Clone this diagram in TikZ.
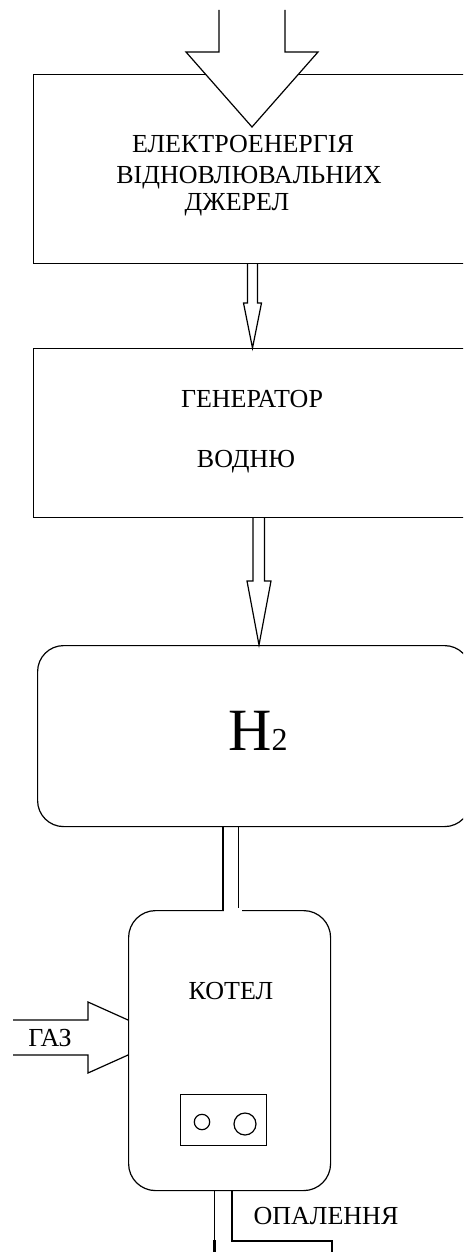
\documentclass[tikz,border=0pt]{standalone}
\usepackage{fontspec}
\setmainfont{Liberation Serif}
\begin{document}
\begin{tikzpicture}[x=1pt,y=-1pt,
  ln/.style={line width=1.2pt, line join=miter},
  box/.style={draw, line width=1.2pt, fill=white, inner sep=0, anchor=north west},
  lbl/.style={font=\fontsize{26}{26}\selectfont, inner sep=0, anchor=base},
  gauge/.style={draw, circle, line width=1.2pt, inner sep=0}]
\useasboundingbox (0,0) rectangle (463,1252);
\clip (0,0) rectangle (463,1252);
% boxes
\node[box, minimum width=447, minimum height=189] (e1) at (33,74) {};
\node[box, minimum width=447, minimum height=169] (gen) at (33,348) {};
\node[box, rounded corners=26, minimum width=433, minimum height=181] (h2) at (37,645) {};
% input arrow
\filldraw[ln, fill=white] (219,10) -- (219,52) -- (186,52) -- (252,127) -- (318,52) -- (285,52) -- (285,10);
% arrow e1 -> gen
\filldraw[ln, fill=white] (e1.south -| 247.5,0) -- (247.5,303) -- (243.5,303) -- (gen.north -| 252.5,0) -- (261.5,303) -- (257.5,303) -- (e1.south -| 257.5,0);
% arrow gen -> h2
\filldraw[ln, fill=white] (gen.south -| 253,0) -- (253,581) -- (247,581) -- (h2.north -| 259,0) -- (271,581) -- (264.5,581) -- (gen.south -| 264.5,0);
% gas arrow (behind boiler)
\coordinate (gasin) at (13,1037.5);
\draw[ln] (13,1020) -- (88,1020) -- (88,1002) -- (167,1037.5) -- (88,1073) -- (88,1055) -- (13,1055);
% boiler
\node[box, rounded corners=27, minimum width=202, minimum height=280] (kot) at (128,910) {};
% pipe h2 -> boiler
\fill[white] (223.7,904) rectangle (241.5,911.5);
\draw[ln] (h2.south -| 223,0) -- (223,910.6);
\draw[ln] (h2.south -| 238.5,0) -- (238.5,908);
% heating outlet
\coordinate (outL) at (214.5,1262);
\coordinate (outR) at (332,1262);
\draw[ln] (kot.south -| 214.5,0) -- (outL);
\draw[line width=2.2pt] (214.5,1240) -- (outL);
\draw[ln] (kot.south -| 232,0) -- (232,1241) -- (332,1241) -- (outR);
% control panel
\node[box, minimum width=86, minimum height=51] (panel) at (180,1094) {};
\node[gauge, minimum size=15.4] (g1) at (202,1122) {};
\node[gauge, minimum size=22] (g2) at (245,1124) {};
% labels
\node[lbl] (t1a) at (243,153) {ЕЛЕКТРОЕНЕРГІЯ};
\node[lbl] (t1b) at (249,183) {ВІДНОВЛЮВАЛЬНИХ};
\node[lbl] (t1c) at (237,211) {ДЖЕРЕЛ};
\node[lbl] (t2a) at (252,407) {ГЕНЕРАТОР};
\node[lbl] (t2b) at (246,467) {ВОДНЮ};
\node[anchor=base, inner sep=0] (t3) at (258,750) {\fontsize{60}{60}\selectfont H\fontsize{32}{32}\selectfont 2};
\node[lbl] (t4) at (231,999) {КОТЕЛ};
\node[lbl] (t5) at (50,1046) {ГАЗ};
\node[lbl] (t6) at (326,1224) {ОПАЛЕННЯ};
\end{tikzpicture}
\end{document}
